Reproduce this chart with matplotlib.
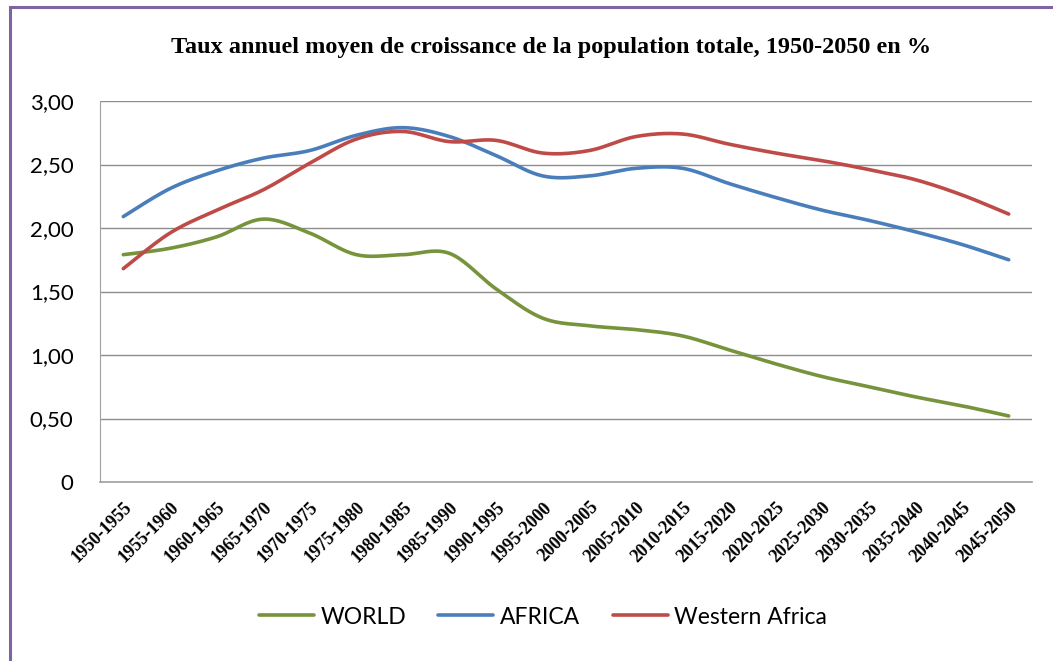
import numpy as np
import matplotlib
matplotlib.use("Agg")
import matplotlib.pyplot as plt
from matplotlib.patches import Rectangle

periods = ["1950-1955", "1955-1960", "1960-1965", "1965-1970", "1970-1975",
           "1975-1980", "1980-1985", "1985-1990", "1990-1995", "1995-2000",
           "2000-2005", "2005-2010", "2010-2015", "2015-2020", "2020-2025",
           "2025-2030", "2030-2035", "2035-2040", "2040-2045", "2045-2050"]
world = [1.79, 1.84, 1.93, 2.07, 1.96, 1.79, 1.79, 1.80, 1.52, 1.29,
         1.23, 1.20, 1.15, 1.04, 0.93, 0.83, 0.75, 0.67, 0.60, 0.52]
africa = [2.09, 2.31, 2.45, 2.55, 2.61, 2.73, 2.79, 2.72, 2.57, 2.41,
          2.41, 2.47, 2.47, 2.35, 2.24, 2.14, 2.06, 1.97, 1.87, 1.75]
western_africa = [1.68, 1.96, 2.14, 2.30, 2.51, 2.70, 2.76, 2.68, 2.69, 2.59,
                  2.61, 2.72, 2.74, 2.66, 2.59, 2.53, 2.46, 2.38, 2.26, 2.11]
series_names = ["WORLD", "AFRICA", "Western Africa"]
series_colors = ["#77933C", "#4A7EBB", "#BE4B48"]
y_ticks = [0, 0.5, 1.0, 1.5, 2.0, 2.5, 3.0]
y_tick_labels = ["0", "0,50", "1,00", "1,50", "2,00", "2,50", "3,00"]
title = "Taux annuel moyen de croissance de la population totale, 1950-2050 en %"


def smooth(x, y, n=20):
    """Catmull-Rom spline through the given points (Excel-like smoothed line)."""
    x = np.asarray(x, float)
    y = np.asarray(y, float)
    px = np.concatenate([[x[0]], x, [x[-1]]])
    py = np.concatenate([[y[0]], y, [y[-1]]])
    xs, ys = [], []
    t = np.linspace(0, 1, n, endpoint=False)
    for i in range(1, len(px) - 2):
        p0x, p1x, p2x, p3x = px[i - 1], px[i], px[i + 1], px[i + 2]
        p0y, p1y, p2y, p3y = py[i - 1], py[i], py[i + 1], py[i + 2]
        c1x, c1y = p1x + (p2x - p0x) / 6, p1y + (p2y - p0y) / 6
        c2x, c2y = p2x - (p3x - p1x) / 6, p2y - (p3y - p1y) / 6
        b0 = (1 - t) ** 3
        b1 = 3 * (1 - t) ** 2 * t
        b2 = 3 * (1 - t) * t ** 2
        b3 = t ** 3
        xs.append(b0 * p1x + b1 * c1x + b2 * c2x + b3 * p2x)
        ys.append(b0 * p1y + b1 * c1y + b2 * c2y + b3 * p2y)
    xs.append([x[-1]])
    ys.append([y[-1]])
    return np.concatenate(xs), np.concatenate(ys)


fig = plt.figure(figsize=(10.53, 6.61), dpi=100)
ax = fig.add_axes([100 / 1053, 1 - 482 / 661, 932 / 1053, 381 / 661])

xpos = np.arange(len(periods))
for vals, name, col in zip([world, africa, western_africa], series_names, series_colors):
    sx, sy = smooth(xpos, vals)
    ax.plot(sx, sy, color=col, lw=2.6, label=name, solid_capstyle="round")

ax.set_xlim(-0.5, len(periods) - 0.5)
ax.set_ylim(0, 3.0)
ax.set_yticks(y_ticks)
ax.set_yticklabels(y_tick_labels, fontsize=16, family="Lato")
ax.tick_params(axis="y", length=0, pad=19)
ax.set_xticks(xpos)
ax.set_xticklabels(periods, rotation=45, ha="right", va="top",
                   rotation_mode="anchor", fontsize=13,
                   family="Liberation Serif", fontweight="bold")
ax.tick_params(axis="x", length=0, pad=12)
ax.yaxis.grid(True, color="#8E8E8E", lw=1.0)
ax.set_axisbelow(True)
for s in ["top", "right"]:
    ax.spines[s].set_visible(False)
ax.spines["left"].set_color("#A0A0A0")
ax.spines["bottom"].set_color("#A0A0A0")
ax.spines["bottom"].set_linewidth(1.2)

fig.text(551 / 1053, 1 - 48 / 661, title, ha="center", va="center",
         fontsize=17.5, family="Liberation Serif", fontweight="bold")

fig.legend(loc="center", bbox_to_anchor=(543 / 1053, 1 - 617 / 661), ncol=3,
           frameon=False, prop={"family": "Lato", "size": 16.5},
           handlelength=2.4, handletextpad=0.3, columnspacing=1.4)

fig.patches.append(Rectangle((9.5 / 1053, -0.2), 1.5, 1.2 - 6.5 / 661,
                             transform=fig.transFigure, fill=False,
                             edgecolor="#8064A2", lw=2.2, figure=fig))

fig.savefig("out.png", dpi=100, facecolor="white")
